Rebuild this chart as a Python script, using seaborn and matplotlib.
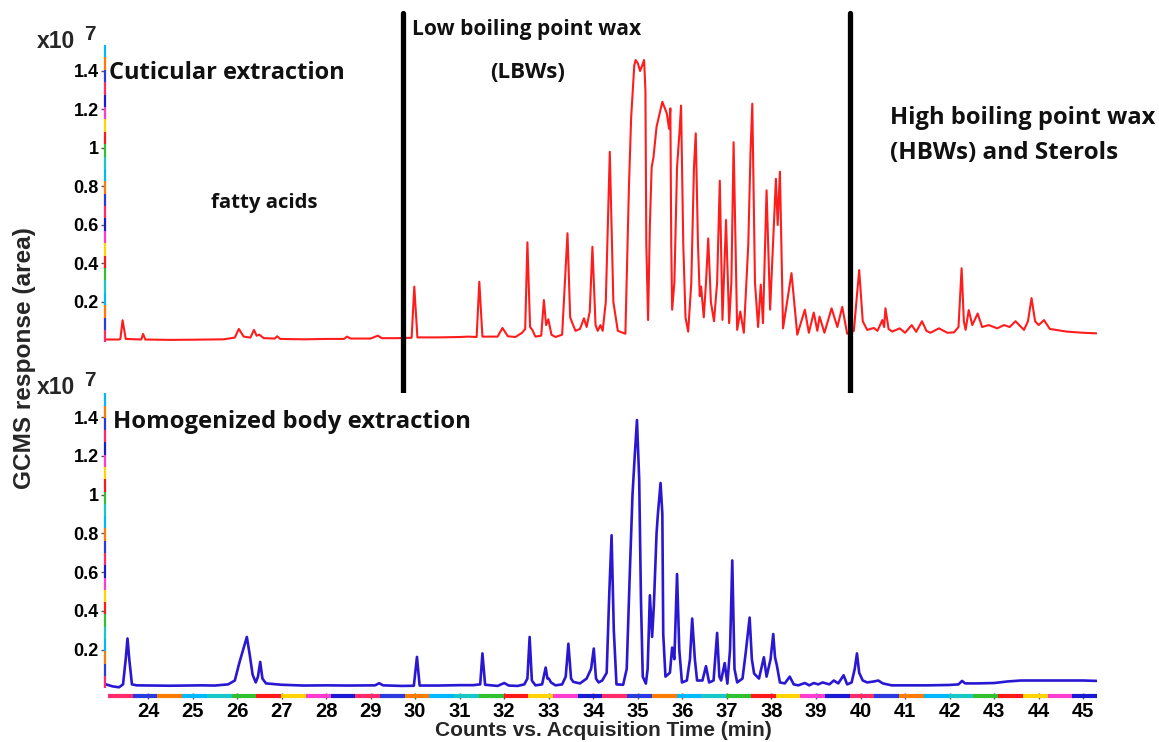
import numpy as np
import matplotlib
matplotlib.use("Agg")
import matplotlib.pyplot as plt
import seaborn as sns
from matplotlib.collections import LineCollection
from matplotlib.transforms import blended_transform_factory

# ---------------- data (response in units of 10^7) ----------------
cut_time = [23.06, 23.35, 23.38, 23.43, 23.50, 23.85, 23.89, 23.94, 24.5, 25.0, 25.7,
            25.95, 26.04, 26.15, 26.30, 26.38, 26.44, 26.50, 26.60, 26.85, 26.90, 26.97,
            27.5, 28.0, 28.40, 28.47, 28.55, 29.0, 29.16, 29.25, 29.6,
            29.92, 29.98, 30.05, 30.5, 31.0, 31.2, 31.38, 31.44, 31.51,
            31.85, 31.96, 32.08, 32.25, 32.40, 32.47, 32.52, 32.58, 32.63, 32.70,
            32.83, 32.89, 32.94, 32.99, 33.06, 33.15, 33.30, 33.42, 33.48, 33.53, 33.60,
            33.70, 33.79, 33.85, 33.92, 33.98, 34.05, 34.10, 34.16, 34.21, 34.28, 34.37,
            34.45, 34.55, 34.72, 34.80, 34.85, 34.92, 34.95, 35.00, 35.05, 35.10, 35.14,
            35.17, 35.19, 35.23, 35.27, 35.31, 35.35, 35.42, 35.55, 35.65, 35.70, 35.73,
            35.75, 35.77, 35.82, 35.88, 35.94, 35.97, 36.02, 36.07, 36.13, 36.20, 36.26,
            36.30, 36.35, 36.39, 36.42, 36.48, 36.53, 36.58, 36.64, 36.71, 36.78, 36.84,
            36.90, 36.98, 37.05, 37.10, 37.15, 37.23, 37.30, 37.38, 37.48, 37.53, 37.57,
            37.63, 37.70, 37.76, 37.81, 37.89, 37.97, 38.10, 38.14, 38.19, 38.26, 38.45,
            38.58, 38.75, 38.84, 38.95, 39.03, 39.08, 39.19, 39.35, 39.48, 39.59, 39.70,
            39.85, 39.97, 40.05, 40.15, 40.30, 40.38, 40.49, 40.53, 40.56, 40.63, 40.71,
            40.88, 41.00, 41.15, 41.25, 41.38, 41.48, 41.57, 41.76, 41.95, 42.10, 42.20,
            42.27, 42.32, 42.36, 42.43, 42.51, 42.63, 42.73, 42.88, 43.07, 43.22, 43.35,
            43.48, 43.67, 43.76, 43.84, 43.92, 44.00, 44.12, 44.25, 44.63, 45.00, 45.30]
cut_resp = [0.005, 0.005, 0.008, 0.105, 0.008, 0.005, 0.034, 0.005, 0.003, 0.004, 0.006,
            0.015, 0.060, 0.020, 0.015, 0.055, 0.025, 0.030, 0.012, 0.010, 0.022, 0.008,
            0.006, 0.008, 0.008, 0.020, 0.010, 0.010, 0.025, 0.012, 0.012,
            0.014, 0.280, 0.016, 0.016, 0.018, 0.020, 0.018, 0.305, 0.020,
            0.020, 0.065, 0.022, 0.018, 0.040, 0.060, 0.510, 0.070, 0.055, 0.020,
            0.025, 0.210, 0.080, 0.110, 0.030, 0.018, 0.030, 0.557, 0.120, 0.090, 0.050,
            0.060, 0.115, 0.070, 0.150, 0.487, 0.080, 0.050, 0.080, 0.050, 0.200, 0.980,
            0.200, 0.050, 0.035, 0.800, 1.160, 1.430, 1.457, 1.440, 1.400, 1.430, 1.457,
            1.300, 0.500, 0.106, 0.600, 0.900, 0.950, 1.110, 1.240, 1.180, 1.100, 1.206,
            0.500, 0.160, 0.300, 0.900, 1.100, 1.220, 0.500, 0.120, 0.046, 0.300, 0.900,
            1.076, 0.500, 0.230, 0.280, 0.120, 0.300, 0.530, 0.200, 0.100, 0.300, 0.830,
            0.107, 0.626, 0.090, 0.300, 1.030, 0.055, 0.150, 0.040, 0.500, 0.980, 1.230,
            0.300, 0.070, 0.290, 0.090, 0.780, 0.160, 0.840, 0.600, 0.877, 0.063, 0.350,
            0.030, 0.160, 0.040, 0.145, 0.050, 0.124, 0.040, 0.167, 0.070, 0.175, 0.035,
            0.050, 0.366, 0.100, 0.055, 0.065, 0.050, 0.106, 0.070, 0.167, 0.060, 0.046,
            0.063, 0.040, 0.080, 0.045, 0.100, 0.050, 0.040, 0.063, 0.040, 0.042, 0.070,
            0.375, 0.100, 0.055, 0.158, 0.080, 0.140, 0.070, 0.080, 0.063, 0.080, 0.070,
            0.100, 0.055, 0.100, 0.220, 0.100, 0.080, 0.106, 0.060, 0.046, 0.040, 0.037]

hom_time = [23.06, 23.20, 23.35, 23.44, 23.50, 23.54, 23.58, 23.64, 23.75, 24.5, 25.2,
            25.5, 25.8, 25.95, 26.05, 26.15, 26.22, 26.28, 26.35, 26.42, 26.47, 26.52,
            26.57, 26.65, 26.8, 27.0, 27.5, 28.0, 28.5, 29.10, 29.19, 29.28, 29.7,
            29.97, 30.04, 30.10, 30.5, 31.0, 31.3, 31.46, 31.51, 31.57, 31.85, 32.00,
            32.10, 32.30, 32.45, 32.52, 32.57, 32.62, 32.70, 32.85, 32.93, 32.97, 33.00,
            33.05, 33.15, 33.30, 33.38, 33.44, 33.50, 33.55, 33.70, 33.85, 33.95, 34.01,
            34.06, 34.12, 34.20, 34.30, 34.36, 34.41, 34.46, 34.52, 34.67, 34.75, 34.82,
            34.88, 34.93, 34.98, 35.03, 35.07, 35.11, 35.18, 35.22, 35.27, 35.32, 35.36,
            35.42, 35.45, 35.51, 35.55, 35.57, 35.62, 35.72, 35.77, 35.82, 35.88, 35.93,
            35.99, 36.10, 36.17, 36.22, 36.28, 36.33, 36.45, 36.53, 36.60, 36.70, 36.78,
            36.83, 36.87, 36.95, 37.01, 37.07, 37.12, 37.17, 37.23, 37.35, 37.42, 37.51,
            37.56, 37.61, 37.72, 37.83, 37.89, 37.98, 38.04, 38.08, 38.12, 38.19, 38.30,
            38.41, 38.50, 38.60, 38.75, 38.85, 38.95, 39.05, 39.15, 39.30, 39.40, 39.50,
            39.62, 39.70, 39.80, 39.87, 39.92, 39.97, 40.05, 40.15, 40.30, 40.40, 40.50,
            40.70, 41.00, 41.50, 42.00, 42.20, 42.28, 42.35, 42.60, 43.00, 43.30, 43.60,
            44.00, 44.50, 45.00, 45.30]
hom_resp = [0.020, 0.010, 0.005, 0.020, 0.150, 0.257, 0.150, 0.020, 0.015, 0.013, 0.015,
            0.014, 0.020, 0.040, 0.130, 0.210, 0.265, 0.180, 0.070, 0.030, 0.060, 0.136,
            0.050, 0.025, 0.022, 0.018, 0.014, 0.015, 0.014, 0.015, 0.026, 0.015, 0.012,
            0.013, 0.162, 0.014, 0.014, 0.016, 0.016, 0.020, 0.180, 0.018, 0.012, 0.027,
            0.014, 0.012, 0.020, 0.050, 0.265, 0.040, 0.015, 0.020, 0.107, 0.050, 0.050,
            0.030, 0.015, 0.020, 0.060, 0.230, 0.050, 0.033, 0.025, 0.050, 0.100, 0.205,
            0.050, 0.030, 0.040, 0.080, 0.500, 0.790, 0.300, 0.020, 0.018, 0.100, 0.600,
            1.000, 1.200, 1.385, 1.080, 0.455, 0.060, 0.024, 0.100, 0.480, 0.265, 0.430,
            0.800, 0.900, 1.060, 0.900, 0.280, 0.060, 0.080, 0.210, 0.150, 0.590, 0.200,
            0.030, 0.040, 0.150, 0.360, 0.150, 0.040, 0.040, 0.114, 0.030, 0.040, 0.286,
            0.060, 0.040, 0.130, 0.024, 0.200, 0.660, 0.100, 0.030, 0.050, 0.180, 0.365,
            0.150, 0.076, 0.050, 0.160, 0.060, 0.150, 0.280, 0.160, 0.120, 0.030, 0.025,
            0.060, 0.020, 0.015, 0.027, 0.015, 0.027, 0.020, 0.030, 0.020, 0.040, 0.025,
            0.067, 0.020, 0.030, 0.100, 0.180, 0.080, 0.040, 0.030, 0.035, 0.040, 0.025,
            0.015, 0.015, 0.015, 0.017, 0.020, 0.038, 0.025, 0.025, 0.027, 0.035, 0.040,
            0.040, 0.040, 0.040, 0.038]

y_ticks = [0.2, 0.4, 0.6, 0.8, 1.0, 1.2, 1.4]
y_tick_labels = ["0.2", "0.4", "0.6", "0.8", "1", "1.2", "1.4"]
x_ticks = list(range(24, 46))
x_tick_labels = [str(t) for t in x_ticks]
region_bounds = [29.72, 39.76]

# ---------------- style ----------------
sns.set_theme(style="white")
plt.rcParams["font.family"] = ["Liberation Sans", "DejaVu Sans"]

W, H = 1159, 742
fig = plt.figure(figsize=(W / 100, H / 100), dpi=100)
fig.patch.set_facecolor("white")


def fx(px):
    return px / W


def fy(py):
    return 1 - py / H


XLIM = (23.035, 45.31)
ax_top = fig.add_axes([fx(105), fy(342.4), fx(1097) - fx(105), fy(45) - fy(342.4)])
ax_bot = fig.add_axes([fx(105), fy(696), fx(1097) - fx(105), fy(393.3) - fy(696)])

sns.lineplot(x=cut_time, y=cut_resp, ax=ax_top, color="#ff1c1c", linewidth=1.5,
             estimator=None, sort=False)
sns.lineplot(x=hom_time, y=hom_resp, ax=ax_bot, color="#2a17d2", linewidth=1.9,
             estimator=None, sort=False)

ax_top.set_xlim(*XLIM)
ax_bot.set_xlim(*XLIM)
ax_top.set_ylim(-0.01, 1.535)
ax_bot.set_ylim(-0.04, 1.523)

rainbow = ["#ff2a6a", "#ffd400", "#18c8c8", "#2a3adf", "#ff3bd0", "#30c030",
           "#ff7a00", "#1a1ad0", "#ff1a1a", "#00b8ff"]


def rainbow_line(ax, p0, p1, n, lw):
    xs = np.linspace(p0[0], p1[0], n + 1)
    ys = np.linspace(p0[1], p1[1], n + 1)
    segs = [[(xs[i], ys[i]), (xs[i + 1], ys[i + 1])] for i in range(n)]
    cols = [rainbow[(i * 3) % len(rainbow)] for i in range(n)]
    lc = LineCollection(segs, colors=cols, linewidths=lw, transform=ax.transAxes,
                        clip_on=False, zorder=3)
    ax.add_collection(lc)


for ax in (ax_top, ax_bot):
    for s in ax.spines.values():
        s.set_visible(False)
    ax.set_xlabel("")
    ax.set_ylabel("")
    ax.set_yticks(y_ticks, y_tick_labels, fontweight="bold", fontsize=13)
    ax.tick_params(axis="y", left=True, length=3, width=1, color="#555555",
                   pad=1.5, labelcolor="black")
    ax.grid(False)

rainbow_line(ax_top, (0, 0.0), (0, 1.0), 24, 1.6)
rainbow_line(ax_bot, (0, 0.026), (0, 1.0), 24, 1.6)
rainbow_line(ax_bot, (0.003, 0.0), (1.0, 0.0), 40, 3.0)

ax_top.set_xticks([])
ax_bot.set_xticks(x_ticks, x_tick_labels, fontweight="bold", fontsize=14.5)
ax_bot.tick_params(axis="x", bottom=True, direction="inout", length=5, width=1,
                   color="#555555", pad=1.5, labelcolor="black")

ax_bot.set_xlabel("Counts vs. Acquisition Time (min)", fontsize=15, fontweight="bold")
ax_bot.xaxis.set_label_coords((603 - 105) / 992, (696 - 730.5) / 302.7)
ax_bot.xaxis.label.set_va("center")

fig.text(fx(25), fy(358.5), "GCMS response (area)", rotation=90, ha="center", va="center",
         fontsize=17.6, fontweight="bold")

# x10^7 multipliers
for yc in (41, 387):
    fig.text(fx(37), fy(yc), "x10", ha="left", va="center", fontsize=16.5, fontweight="bold")
    fig.text(fx(84), fy(yc - 7), "7", ha="left", va="center", fontsize=15, fontweight="bold")

# region separators
for t in region_bounds:
    tr = blended_transform_factory(ax_top.transData, fig.transFigure)
    ax_top.plot([t, t], [fy(686), fy(13)], color="black", linewidth=3.8,
                transform=tr, clip_on=False, zorder=5)

# annotations
fam = ["Open Sans", "DejaVu Sans"]
ann = dict(fontweight="bold", color="#111111", family=fam, va="center")
fig.text(fx(109), fy(73), "Cuticular extraction", ha="left", fontsize=17.0, **ann)
fig.text(fx(264), fy(203), "fatty acids", ha="center", fontsize=14.7, **ann)
fig.text(fx(527), fy(30), "Low boiling point wax", ha="center", fontsize=15.1, **ann)
fig.text(fx(527.5), fy(72), "(LBWs)", ha="center", fontsize=16.1, **ann)
fig.text(fx(890), fy(118), "High boiling point wax", ha="left", fontsize=17.1, **ann)
fig.text(fx(890), fy(153), "(HBWs) and Sterols", ha="left", fontsize=17.5, **ann)
fig.text(fx(113), fy(422), "Homogenized body extraction", ha="left", fontsize=17.2, **ann)

fig.savefig("out.png", dpi=100, facecolor="white")
